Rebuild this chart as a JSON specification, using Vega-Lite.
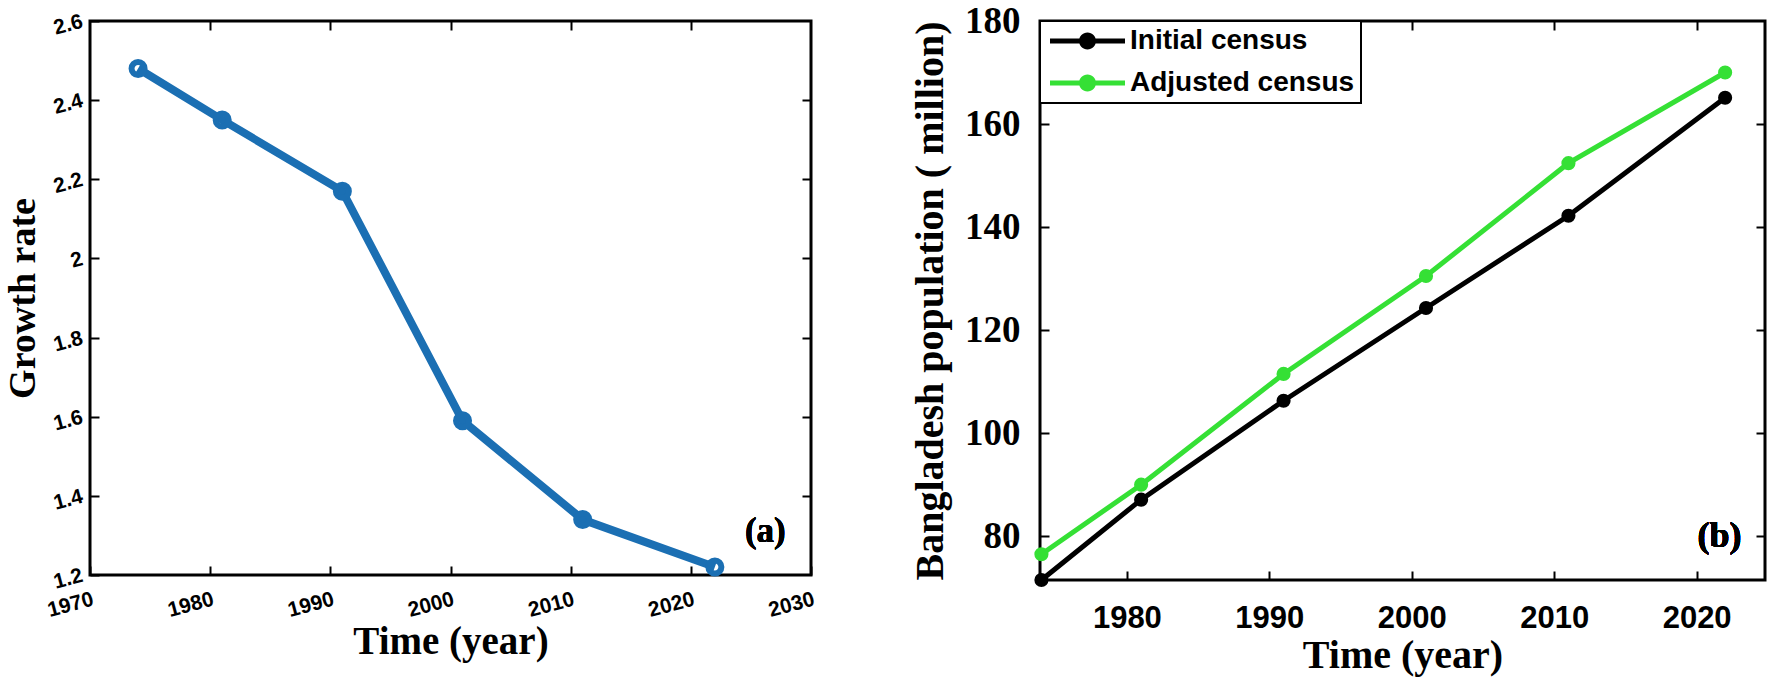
{
  "$schema": "https://vega.github.io/schema/vega-lite/v6.json",
  "background": "white",
  "autosize": {"type": "pad"},
  "padding": {"left": 3, "top": 0, "right": 6, "bottom": 4},
  "spacing": 229,
  "bounds": "flush",
  "resolve": {"scale": {"color": "independent"}, "legend": {"color": "independent"}},
  "config": {
    "view": {"stroke": "#000", "strokeWidth": 3},
    "axis": {"domain": false, "grid": false, "ticks": true, "tickColor": "#000", "tickWidth": 2, "tickSize": -9, "labelColor": "#000", "titleColor": "#000", "labelFlush": false, "labelOverlap": false, "labelBound": false},
    "legend": {"strokeWidth": 2}
  },
  "datasets": {
    "growth": [
      {"year": 1974, "rate": 2.48},
      {"year": 1981, "rate": 2.35},
      {"year": 1991, "rate": 2.17},
      {"year": 2001, "rate": 1.59},
      {"year": 2011, "rate": 1.34},
      {"year": 2022, "rate": 1.22}
    ],
    "population": [
      {"year": 1974, "series": "Initial census", "pop": 71.5},
      {"year": 1981, "series": "Initial census", "pop": 87.1},
      {"year": 1991, "series": "Initial census", "pop": 106.3},
      {"year": 2001, "series": "Initial census", "pop": 124.3},
      {"year": 2011, "series": "Initial census", "pop": 142.2},
      {"year": 2022, "series": "Initial census", "pop": 165.1},
      {"year": 1974, "series": "Adjusted census", "pop": 76.5},
      {"year": 1981, "series": "Adjusted census", "pop": 90.0},
      {"year": 1991, "series": "Adjusted census", "pop": 111.5},
      {"year": 2001, "series": "Adjusted census", "pop": 130.5},
      {"year": 2011, "series": "Adjusted census", "pop": 152.4},
      {"year": 2022, "series": "Adjusted census", "pop": 170.0}
    ]
  },
  "hconcat": [
    {
      "width": 721,
      "height": 554,
      "data": {"name": "growth"},
      "layer": [
        {
          "mark": {"type": "line", "color": "#1b6fb3", "strokeWidth": 8},
          "encoding": {
            "x": {"field": "year", "type": "quantitative", "scale": {"domain": [1970, 2030], "nice": false, "zero": false},
              "axis": {"values": [1970, 1980, 1990, 2000, 2010, 2020, 2030], "format": "d", "labelAngle": -15, "labelAlign": "right", "labelBaseline": "top", "labelFont": "Liberation Sans", "labelFontWeight": "bold", "labelFontSize": 21, "labelPadding": 22,
                "title": "Time (year)", "titleFont": "Liberation Serif", "titleFontWeight": "bold", "titleFontSize": 39, "titlePadding": 2}},
            "y": {"field": "rate", "type": "quantitative", "scale": {"domain": [1.2, 2.6], "nice": false, "zero": false},
              "axis": {"values": [1.2, 1.4, 1.6, 1.8, 2.0, 2.2, 2.4, 2.6], "format": "~g", "labelAngle": -15, "labelAlign": "right", "labelBaseline": "middle", "labelFont": "Liberation Sans", "labelFontWeight": "bold", "labelFontSize": 21, "labelPadding": 17,
                "title": "Growth rate", "titleFont": "Liberation Serif", "titleFontWeight": "bold", "titleFontSize": 38, "titlePadding": 8}}
          }
        },
        {
          "mark": {"type": "point", "filled": false, "color": "#1b6fb3", "strokeWidth": 6, "size": 170, "opacity": 1},
          "encoding": {
            "x": {"field": "year", "type": "quantitative", "scale": {"domain": [1970, 2030], "nice": false, "zero": false}, "axis": null},
            "y": {"field": "rate", "type": "quantitative", "scale": {"domain": [1.2, 2.6], "nice": false, "zero": false}, "axis": null}
          }
        },
        {
          "mark": {"type": "text", "text": "(a)", "font": "Liberation Serif", "fontWeight": "bold", "fontSize": 35, "color": "#000", "align": "center", "baseline": "middle"},
          "encoding": {
            "x": {"datum": 2026.2, "type": "quantitative", "axis": null},
            "y": {"datum": 1.31, "type": "quantitative", "axis": null}
          }
        },
        {
          "mark": {"type": "point", "opacity": 0},
          "encoding": {
            "x": {"field": "year", "type": "quantitative", "scale": {"domain": [1970, 2030], "nice": false, "zero": false},
              "axis": {"orient": "top", "labels": false, "title": null, "values": [1980, 1990, 2000, 2010, 2020]}},
            "y": {"field": "rate", "type": "quantitative", "scale": {"domain": [1.2, 2.6], "nice": false, "zero": false},
              "axis": {"orient": "right", "labels": false, "title": null, "values": [1.4, 1.6, 1.8, 2.0, 2.2, 2.4]}}
          }
        }
      ],
      "resolve": {"axis": {"x": "independent", "y": "independent"}}
    },
    {
      "width": 725,
      "height": 559,
      "data": {"name": "population"},
      "layer": [
        {
          "transform": [{"filter": "datum.series == 'Initial census'"}],
          "mark": {"type": "line", "strokeWidth": 5, "color": "#000000"},
          "encoding": {
            "x": {"field": "year", "type": "quantitative", "scale": {"domain": [1973.9, 2024.8], "nice": false, "zero": false},
              "axis": {"values": [1980, 1990, 2000, 2010, 2020], "format": "d", "labelFont": "Liberation Sans", "labelFontWeight": "bold", "labelFontSize": 31, "labelBaseline": "top", "labelPadding": 32,
                "title": "Time (year)", "titleFont": "Liberation Serif", "titleFontWeight": "bold", "titleFontSize": 40, "titlePadding": 2}},
            "y": {"field": "pop", "type": "quantitative", "scale": {"domain": [71.5, 180], "nice": false, "zero": false},
              "axis": {"values": [80, 100, 120, 140, 160, 180], "labelFont": "Liberation Serif", "labelFontWeight": "bold", "labelFontSize": 37, "labelPadding": 29,
                "title": "Bangladesh population ( million)", "titleFont": "Liberation Serif", "titleFontWeight": "bold", "titleFontSize": 40, "titlePadding": 14}}
          }
        },
        {
          "transform": [{"filter": "datum.series == 'Adjusted census'"}],
          "mark": {"type": "line", "strokeWidth": 5, "color": "#35e035"},
          "encoding": {
            "x": {"field": "year", "type": "quantitative", "scale": {"domain": [1973.9, 2024.8], "nice": false, "zero": false}, "axis": null},
            "y": {"field": "pop", "type": "quantitative", "scale": {"domain": [71.5, 180], "nice": false, "zero": false}, "axis": null}
          }
        },
        {
          "mark": {"type": "point", "filled": true, "size": 200, "opacity": 1},
          "encoding": {
            "x": {"field": "year", "type": "quantitative", "scale": {"domain": [1973.9, 2024.8], "nice": false, "zero": false}, "axis": null},
            "y": {"field": "pop", "type": "quantitative", "scale": {"domain": [71.5, 180], "nice": false, "zero": false}, "axis": null},
            "color": {"field": "series", "type": "nominal", "scale": {"domain": ["Initial census", "Adjusted census"], "range": ["#000000", "#35e035"]},
              "legend": {"title": null, "orient": "top-left", "offset": 0, "padding": 6, "fillColor": "#ffffff", "strokeColor": "#000000",
                "symbolType": "M -1 -0.25 L 6.5 -0.25 L 6.5 0.25 L -1 0.25 Z M 3.6 0 A 0.85 0.85 0 1 1 1.9 0 A 0.85 0.85 0 1 1 3.6 0 Z",
                "symbolSize": 400, "symbolStrokeWidth": 0, "symbolOpacity": 1, "labelOffset": 56, "rowPadding": 14,
                "labelFont": "Liberation Sans", "labelFontWeight": "bold", "labelFontSize": 28, "labelColor": "#000000", "labelLimit": 400}}
          }
        },
        {
          "mark": {"type": "text", "text": "(b)", "font": "Liberation Serif", "fontWeight": "bold", "fontSize": 36, "color": "#000", "align": "center", "baseline": "middle"},
          "encoding": {
            "x": {"datum": 2021.6, "type": "quantitative", "axis": null},
            "y": {"datum": 80, "type": "quantitative", "axis": null}
          }
        },
        {
          "mark": {"type": "point", "opacity": 0},
          "encoding": {
            "x": {"field": "year", "type": "quantitative", "scale": {"domain": [1973.9, 2024.8], "nice": false, "zero": false},
              "axis": {"orient": "top", "labels": false, "title": null, "values": [1980, 1990, 2000, 2010, 2020]}},
            "y": {"field": "pop", "type": "quantitative", "scale": {"domain": [71.5, 180], "nice": false, "zero": false},
              "axis": {"orient": "right", "labels": false, "title": null, "values": [80, 100, 120, 140, 160]}}
          }
        }
      ],
      "resolve": {"axis": {"x": "independent", "y": "independent"}}
    }
  ]
}
